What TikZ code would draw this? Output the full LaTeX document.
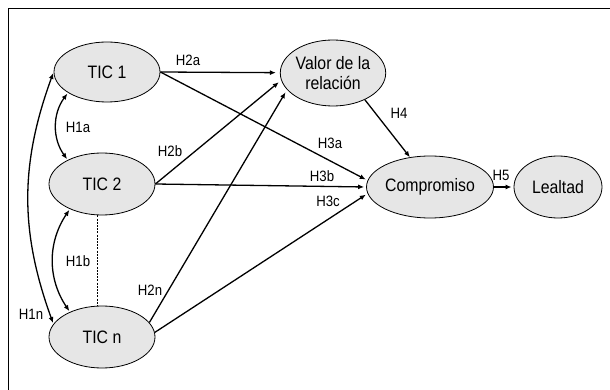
\documentclass[tikz,border=0pt]{standalone}
\usepackage{fontspec}
\setmainfont{Liberation Sans}[FakeStretch=0.88]
\usetikzlibrary{shapes.geometric,arrows.meta}
\definecolor{ellfill}{HTML}{E6E6E6}
\begin{document}
\begin{tikzpicture}[x=1pt,y=-1pt,
  var/.style={ellipse,draw,line width=0.8pt,fill=ellfill,inner sep=0pt,
    font=\fontsize{18}{20}\selectfont,align=center},
  lbl/.style={font=\fontsize{15}{16}\selectfont,inner sep=0pt},
  arr/.style={line width=1.3pt,-{Latex[length=6pt,width=5pt]},shorten >=2pt},
  darr/.style={line width=1.3pt,{Latex[length=6pt,width=5pt]}-{Latex[length=6pt,width=5pt]},shorten >=1pt,shorten <=1pt}]
\useasboundingbox (0,0) rectangle (610,390);
\draw[line width=0.9pt] (8,390) -- (8,8) -- (610,8);
% nodes
\node[var,minimum width=106pt,minimum height=60pt] (tic1) at (107,72) {TIC 1};
\node[var,minimum width=106pt,minimum height=62pt] (tic2) at (102,184) {TIC 2};
\node[var,minimum width=106pt,minimum height=62pt] (ticn) at (102,337) {TIC n};
\node[var,minimum width=104pt,minimum height=66pt] (valor) at (333,73) {Valor de la\\relación};
\node[var,minimum width=100pt,minimum height=62pt] (comp) at (430,187) {Compromiso};
\node[var,minimum width=88pt,minimum height=62pt] (leal) at (558,187) {Lealtad};
% straight arrows
\draw[arr,shorten >=4pt] (tic1.east) -- (valor);
\draw[arr] (tic1.east) -- (comp.174);
\draw[arr,shorten >=3pt] (tic2.east) -- (valor.188);
\draw[arr] (tic2.east) -- (comp.west);
\draw[arr,shorten >=3pt] (ticn.17) -- (valor.200);
\draw[arr] (ticn.5) -- (comp.186);
\draw[arr,shorten >=0pt] (valor.320) -- (comp.124);
\draw[arr] (comp.east) -- (leal.west);
% correlations
\draw[darr] (tic1.208) to[bend right=36] (tic2.145);
\draw[darr] (tic2.218) to[bend right=34] (ticn.142);
\draw[darr] (tic1.west) to[bend right=20] (ticn.165);
\draw[line width=1pt,dash pattern=on 2pt off 1.2pt] ([xshift=-5pt]tic2.south) -- ([xshift=-5pt]ticn.north);
% labels
\node[lbl] (l2a) at (188,60) {H2a};
\node[lbl] (l1a) at (78,127) {H1a};
\node[lbl] (l2b) at (170,151) {H2b};
\node[lbl] (l1b) at (78,261) {H1b};
\node[lbl] (l2n) at (150,290) {H2n};
\node[lbl] (l1n) at (31,314) {H1n};
\node[lbl] (l3a) at (330,143) {H3a};
\node[lbl] (l3b) at (322,176) {H3b};
\node[lbl] (l3c) at (328,201) {H3c};
\node[lbl] (l4) at (399,113) {H4};
\node[lbl] (l5) at (501,175) {H5};
\end{tikzpicture}
\end{document}
